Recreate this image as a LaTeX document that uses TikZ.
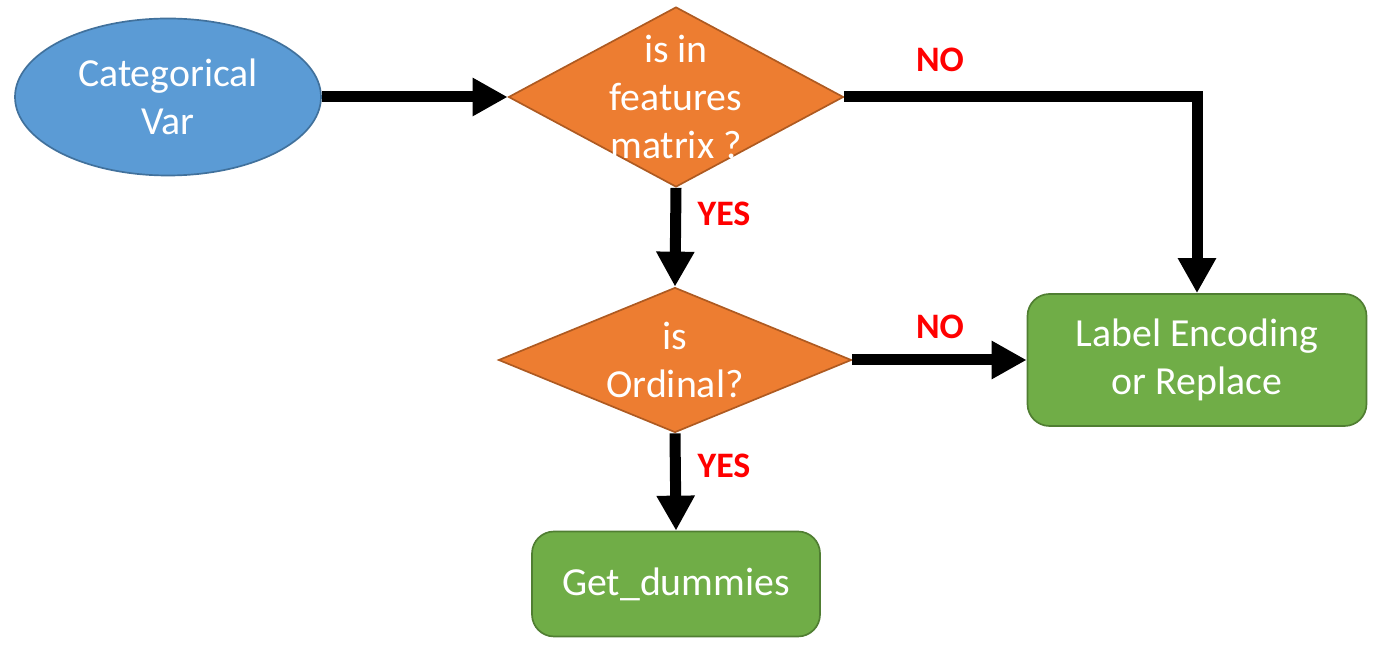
\documentclass[tikz,border=0pt]{standalone}
\usepackage{fontspec}
\setmainfont{Carlito}
\usetikzlibrary{shapes.geometric,arrows.meta}
\definecolor{varblue}{HTML}{5B9BD5}
\definecolor{varblueline}{HTML}{41719C}
\definecolor{askorange}{HTML}{ED7D31}
\definecolor{askorangeline}{HTML}{AE5A21}
\definecolor{dogreen}{HTML}{70AD47}
\definecolor{dogreenline}{HTML}{507E32}
\newcommand{\boxfont}{\fontsize{28.3}{34}\selectfont}

\begin{document}
\begin{tikzpicture}[
    start/.style={ellipse,draw=varblueline,fill=varblue,line width=1.2pt,inner sep=0pt,
        minimum width=7.65cm,minimum height=3.925cm,text=white,font=\boxfont,align=center},
    decision/.style={diamond,draw=askorangeline,fill=askorange,line width=1.2pt,inner sep=0pt,
        minimum width=#1},
    asktext/.style={text=white,font=\boxfont,align=center},
    action/.style={rectangle,rounded corners=0.55cm,draw=dogreenline,fill=dogreen,line width=1.2pt,
        text=white,font=\boxfont,align=center},
    flow/.style={line width=0.275cm,-{Triangle[length=0.875cm,width=0.9cm]}},
    answer/.style={text=red,font=\fontsize{25.5}{30}\selectfont\bfseries}
]
\useasboundingbox (0,0) rectangle (34.8,-16.15);

% shapes
\node[start] (var) at (4.2,-2.425) {Categorical\\Var};
\node[decision=8.375cm,minimum height=4.5cm,
    label={[asktext]center:is in\\features\\matrix ?}] (infeat) at (16.9,-2.425) {};
\node[decision=8.825cm,minimum height=3.625cm,
    label={[asktext]center:is\\Ordinal?}] (ordinal) at (16.875,-9.0) {};
\node[action,minimum width=8.475cm,minimum height=3.3cm] (labenc) at (29.925,-9.0) {Label Encoding\\or Replace};
\node[action,minimum width=7.2cm,minimum height=2.625cm] (dummies) at (16.9,-14.6) {Get\_dummies};

% connectors
\draw[flow] (var.east) -- (infeat.west);
\draw[flow] (infeat.east) -| (labenc.north);
\draw[flow] (infeat.south) -- (ordinal.north);
\draw[flow] (ordinal.east) -- (labenc.west);
\draw[flow] (ordinal.south) -- (dummies.north);

% answers
\node[answer] (no1) at (23.5,-1.5) {NO};
\node[answer] (yes1) at (18.1,-5.35) {YES};
\node[answer] (no2) at (23.5,-8.175) {NO};
\node[answer] (yes2) at (18.1,-11.65) {YES};

\end{tikzpicture}
\end{document}
